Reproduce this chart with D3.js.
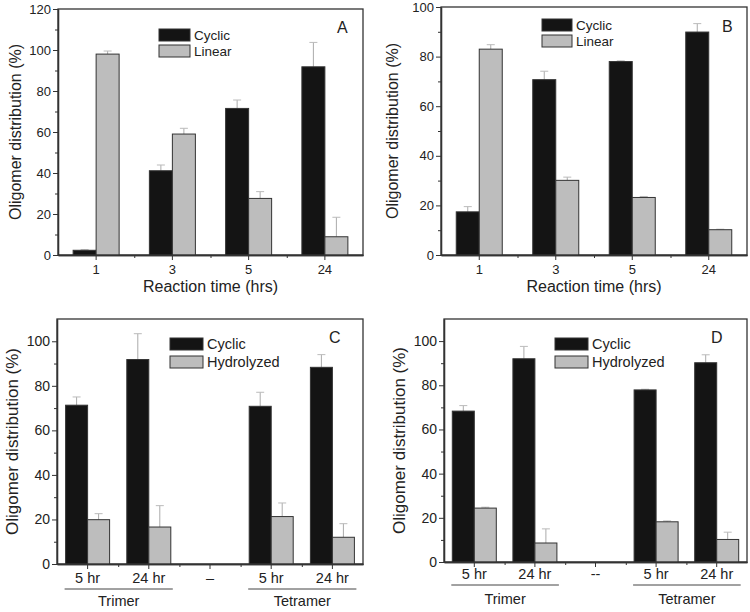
<!DOCTYPE html>
<html>
<head>
    <script src="https://d3js.org/d3.v7.min.js" charset="utf-8"></script>
    <style>
        body { margin: 0; background: #fff; }
        text { font-family: "Liberation Sans", Arial, sans-serif; fill: #222; }
    </style>
</head>
<body>
    <script>
        // panel A / B: reaction time
        var timeLabels = ["1", "3", "5", "24"];
        var aCyclic = [2.3, 41.1, 71.5, 91.8];
        var aCyclicErr = [0.3, 2.8, 4.1, 11.9];
        var aLinear = [98, 59, 27.6, 8.9];
        var aLinearErr = [1.5, 2.8, 3.3, 9.5];

        var bCyclic = [17.4, 70.7, 78, 89.9];
        var bCyclicErr = [2.1, 3.4, 0.3, 3.4];
        var bLinear = [83, 30.1, 23.2, 10.2];
        var bLinearErr = [1.8, 1.3, 0.4, 0.2];

        // panel C / D: trimer vs tetramer
        var cLabels = ["5 hr", "24 hr", "\u2013", "5 hr", "24 hr"];
        var dLabels = ["5 hr", "24 hr", "--", "5 hr", "24 hr"];
        var groupLabels = ["Trimer", "Tetramer"];
        var cCyclic = [71.3, 91.8, null, 70.8, 88.3];
        var cCyclicErr = [3.7, 11.6, null, 6.3, 5.7];
        var cHydro = [19.9, 16.6, null, 21.3, 12];
        var cHydroErr = [2.7, 9.6, null, 6.1, 6.1];

        var dCyclic = [68.3, 92, null, 77.9, 90.2];
        var dCyclicErr = [2.5, 5.6, null, 0.3, 3.6];
        var dHydro = [24.4, 8.6, null, 18.2, 10.2];
        var dHydroErr = [0.4, 6.4, null, 0.4, 3.3];

        var yTicksA = [0, 20, 40, 60, 80, 100, 120];
        var yTicksB = [0, 20, 40, 60, 80, 100];
        var yTicksCD = [0, 20, 40, 60, 80, 100];

        var svg = d3.select("body")
            .append("svg")
            .attr("width", 750)
            .attr("height", 612);

        function panel(p) {
            var g = svg.append("g");
            var n = p.labels.length;
            var x = d3.scaleBand().domain(d3.range(n)).range([p.left, p.right]);
            var xEdge = d3.scaleLinear().domain([0, n]).range([p.left, p.right]);
            var y = d3.scaleLinear().domain([0, p.ymax]).range([p.bottom, p.top]);

            // frame
            g.append("rect")
                .attr("x", p.left).attr("y", p.top)
                .attr("width", p.right - p.left).attr("height", p.bottom - p.top)
                .attr("fill", "none").attr("stroke", "#333").attr("stroke-width", 1.3);

            // bars
            var series = [
                { vals: p.s1, err: p.e1, fill: "#141414", off: -p.barW },
                { vals: p.s2, err: p.e2, fill: "#bdbdbd", off: 0 }
            ];
            series.forEach(function (s) {
                var pts = s.vals.map(function (v, i) { return { i: i, v: v, e: s.err[i] }; })
                    .filter(function (d) { return d.v != null; });
                var cx = function (d) { return x(d.i) + x.bandwidth() / 2 + s.off + p.barW / 2; };
                g.selectAll(null).data(pts).enter().append("line")
                    .attr("x1", cx).attr("x2", cx)
                    .attr("y1", function (d) { return y(d.v); })
                    .attr("y2", function (d) { return y(d.v + d.e); })
                    .attr("stroke", "#aaa").attr("stroke-width", 1);
                g.selectAll(null).data(pts).enter().append("line")
                    .attr("x1", function (d) { return cx(d) - 4; })
                    .attr("x2", function (d) { return cx(d) + 4; })
                    .attr("y1", function (d) { return y(d.v + d.e); })
                    .attr("y2", function (d) { return y(d.v + d.e); })
                    .attr("stroke", "#bbb").attr("stroke-width", 1);
                g.selectAll(null).data(pts).enter().append("rect")
                    .attr("x", function (d) { return x(d.i) + x.bandwidth() / 2 + s.off; })
                    .attr("y", function (d) { return y(d.v); })
                    .attr("width", p.barW)
                    .attr("height", function (d) { return y(0) - y(d.v); })
                    .attr("fill", s.fill)
                    .attr("stroke", "#333").attr("stroke-width", 1);
            });

            // y axis
            var yAxis = g.append("g").attr("transform", "translate(" + p.left + ",0)")
                .call(d3.axisLeft(y).tickValues(p.yTicks).tickSize(5).tickSizeOuter(0).tickPadding(2));
            var minor = p.yTicks.map(function (t) { return t + 10; })
                .filter(function (t) { return t < p.ymax; });
            g.append("g").attr("transform", "translate(" + p.left + ",0)")
                .call(d3.axisLeft(y).tickValues(minor).tickSize(3).tickSizeOuter(0).tickFormat(""));

            // x axis
            var xAxis = g.append("g").attr("transform", "translate(0," + p.bottom + ")")
                .call(d3.axisBottom(x).tickSize(5).tickSizeOuter(0).tickPadding(p.xPad)
                    .tickFormat(function (i) { return p.labels[i]; }));
            g.append("g").attr("transform", "translate(0," + p.bottom + ")")
                .call(d3.axisBottom(xEdge).tickValues(d3.range(1, n)).tickSize(3).tickSizeOuter(0).tickFormat(""));

            g.selectAll(".domain").attr("stroke", "#333").attr("stroke-width", 1.3);
            g.selectAll(".tick line").attr("stroke", "#333");
            yAxis.selectAll("text").style("font-size", p.yFont + "px").attr("fill", "#222");
            xAxis.selectAll("text").style("font-size", p.xFont + "px").attr("fill", "#222");

            // y title
            g.append("text")
                .attr("transform", "translate(" + p.yTitleX + "," + ((p.top + p.bottom) / 2) + ") rotate(-90)")
                .attr("text-anchor", "middle")
                .style("font-size", p.titleFont + "px")
                .text("Oligomer distribution (%)");

            // x title or group lines
            if (p.xTitle) {
                g.append("text")
                    .attr("x", (p.left + p.right) / 2).attr("y", p.xTitleY)
                    .attr("text-anchor", "middle")
                    .style("font-size", p.titleFont + "px")
                    .text(p.xTitle);
            } else {
                var groups = [[0, 1], [3, 4]];
                groups.forEach(function (gr, k) {
                    var x0 = x(gr[0]) + x.bandwidth() / 2 - p.barW - 1;
                    var x1 = x(gr[1]) + x.bandwidth() / 2 + p.barW + 2;
                    g.append("line")
                        .attr("x1", x0).attr("x2", x1)
                        .attr("y1", p.groupLineY).attr("y2", p.groupLineY)
                        .attr("stroke", "#444").attr("stroke-width", 1);
                    g.append("text")
                        .attr("x", (x0 + x1) / 2).attr("y", p.groupLineY + p.groupTextDy)
                        .attr("text-anchor", "middle")
                        .style("font-size", p.xFont + "px")
                        .text(groupLabels[k]);
                });
            }

            // legend
            [p.name1, p.name2].forEach(function (nm, k) {
                g.append("rect")
                    .attr("x", p.legX).attr("y", p.legY + k * p.legStep)
                    .attr("width", p.legW).attr("height", 12)
                    .attr("fill", k === 0 ? "#141414" : "#bdbdbd")
                    .attr("stroke", "#333").attr("stroke-width", 1);
                g.append("text")
                    .attr("x", p.legX + p.legW + 4).attr("y", p.legY + k * p.legStep + 11)
                    .style("font-size", p.legFont + "px")
                    .text(nm);
            });

            g.append("text")
                .attr("x", p.letterX).attr("y", p.letterY)
                .style("font-size", "16px")
                .text(p.letter);
        }

        panel({
            letter: "A", letterX: 337, letterY: 33,
            left: 58, right: 363, top: 9, bottom: 255, ymax: 120, yTicks: yTicksA,
            labels: timeLabels, s1: aCyclic, e1: aCyclicErr, s2: aLinear, e2: aLinearErr,
            barW: 23, yFont: 13, xFont: 13, xPad: 5, titleFont: 16, yTitleX: 21,
            xTitle: "Reaction time (hrs)", xTitleY: 292,
            name1: "Cyclic", name2: "Linear", legX: 159, legY: 29, legStep: 16, legW: 31, legFont: 13.5
        });
        panel({
            letter: "B", letterX: 722, letterY: 32,
            left: 441, right: 747, top: 7, bottom: 255, ymax: 100, yTicks: yTicksB,
            labels: timeLabels, s1: bCyclic, e1: bCyclicErr, s2: bLinear, e2: bLinearErr,
            barW: 23, yFont: 13, xFont: 13, xPad: 5, titleFont: 16, yTitleX: 398,
            xTitle: "Reaction time (hrs)", xTitleY: 292,
            name1: "Cyclic", name2: "Linear", legX: 542, legY: 19, legStep: 16, legW: 30, legFont: 13.5
        });
        panel({
            letter: "C", letterX: 329, letterY: 343,
            left: 57, right: 363, top: 319, bottom: 564, ymax: 110, yTicks: yTicksCD,
            labels: cLabels, s1: cCyclic, e1: cCyclicErr, s2: cHydro, e2: cHydroErr,
            barW: 22, yFont: 14, xFont: 14.5, xPad: 4, titleFont: 17, yTitleX: 18,
            groupLineY: 589, groupTextDy: 17,
            name1: "Cyclic", name2: "Hydrolyzed", legX: 170, legY: 338, legStep: 18, legW: 33, legFont: 14.5
        });
        panel({
            letter: "D", letterX: 711, letterY: 343,
            left: 444, right: 747, top: 319, bottom: 562, ymax: 110, yTicks: yTicksCD,
            labels: dLabels, s1: dCyclic, e1: dCyclicErr, s2: dHydro, e2: dHydroErr,
            barW: 22, yFont: 14, xFont: 14.5, xPad: 2, titleFont: 17, yTitleX: 405,
            groupLineY: 585, groupTextDy: 19,
            name1: "Cyclic", name2: "Hydrolyzed", legX: 555, legY: 338, legStep: 18, legW: 33, legFont: 14.5
        });
    </script>
</body>
</html>
